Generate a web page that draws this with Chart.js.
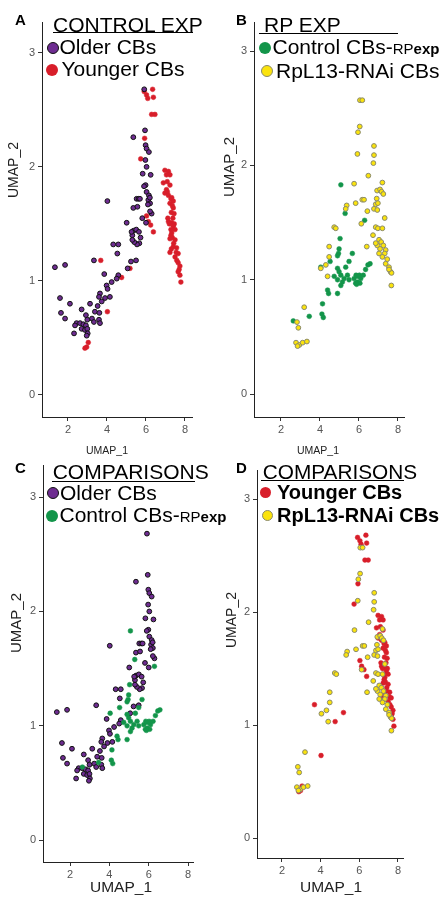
<!DOCTYPE html>
<html>
<head>
<meta charset="utf-8">
<script src="https://cdn.jsdelivr.net/npm/chart.js@4.4.0/dist/chart.umd.min.js"></script>
<style>
html, body { margin: 0; padding: 0; background: #fff; }
body { width: 443px; height: 897px; position: relative; overflow: hidden; font-family: "Liberation Sans", Arial, sans-serif; }
canvas { position: absolute; }
.t { position: absolute; white-space: nowrap; color: #000; }
.dot { position: absolute; border-radius: 50%; box-sizing: border-box; }
.rule { position: absolute; height: 1px; background: #000; }
</style>
</head>
<body>
<canvas id="pA"></canvas>
<canvas id="pB"></canvas>
<canvas id="pC"></canvas>
<canvas id="pD"></canvas>
<script>
// tick values shared by all four panels
const xTicks = [2, 4, 6, 8];
const yTicks = [0, 1, 2, 3];

// UMAP coordinates, [UMAP_1, UMAP_2]
const olderCBs = [
  [5.91,2.68],[5.95,2.32],[5.35,2.26],[5.98,2.19],[6.03,2.16],[6.15,2.13],[5.97,2.06],[6.03,2.00],
  [5.83,1.94],[6.24,1.93],[5.98,1.84],[5.90,1.83],[6.03,1.78],[5.52,1.72],[5.62,1.72],[5.69,1.72],
  [6.12,1.71],[6.15,1.75],[6.21,1.68],[6.10,1.67],[6.20,1.73],[4.02,1.70],[5.35,1.64],[5.56,1.65],
  [6.29,1.59],[6.21,1.61],[5.81,1.55],[5.01,1.51],[6.00,1.51],[5.30,1.40],[5.36,1.44],[5.50,1.45],
  [5.64,1.43],[5.72,1.38],[5.66,1.33],[5.54,1.32],[5.40,1.34],[5.30,1.36],[5.26,1.43],[4.32,1.32],
  [4.58,1.32],[4.53,1.24],[3.33,1.18],[5.23,1.17],[5.49,1.18],[5.06,1.11],[1.33,1.12],[1.85,1.14],
  [3.86,1.06],[4.58,1.05],[4.50,1.02],[4.24,0.99],[3.98,0.96],[4.03,0.93],[4.15,0.86],[3.90,0.85],
  [3.64,0.89],[3.59,0.86],[3.73,0.82],[3.52,0.78],[1.59,0.85],[2.10,0.80],[3.13,0.80],[2.70,0.75],
  [3.38,0.73],[3.61,0.72],[1.64,0.72],[1.85,0.67],[2.92,0.70],[3.23,0.67],[3.33,0.64],[3.59,0.66],
  [3.64,0.63],[2.44,0.63],[2.62,0.63],[2.79,0.62],[2.92,0.61],[2.70,0.58],[2.87,0.57],[2.99,0.58],
  [2.31,0.54],[3.01,0.54],[2.96,0.52],[2.36,0.61],[2.99,0.66]
];
const youngerCBs = [
  [5.91,2.66],[6.03,2.63],[6.34,2.68],[6.38,2.61],[6.09,2.60],[6.29,2.46],[6.46,2.46],[5.93,2.25],
  [5.73,2.07],[6.97,1.97],[7.15,1.96],[7.23,1.93],[7.05,1.93],[6.89,1.86],[7.09,1.87],[7.23,1.84],
  [6.97,1.77],[7.05,1.80],[7.10,1.78],[7.15,1.75],[7.32,1.73],[7.28,1.72],[7.40,1.70],[7.23,1.68],
  [7.35,1.66],[7.40,1.64],[7.30,1.60],[7.44,1.59],[7.38,1.55],[7.12,1.55],[7.15,1.52],[7.32,1.51],
  [7.20,1.50],[7.45,1.50],[7.40,1.48],[7.28,1.45],[7.49,1.45],[7.32,1.42],[7.28,1.40],[7.35,1.38],
  [7.23,1.37],[7.49,1.36],[7.42,1.33],[7.40,1.30],[7.30,1.28],[7.57,1.29],[7.23,1.25],[7.55,1.25],
  [7.65,1.24],[7.49,1.21],[7.58,1.18],[7.65,1.16],[7.74,1.13],[7.70,1.10],[7.65,1.08],[7.74,1.05],
  [7.79,0.99],[6.03,1.57],[6.12,1.52],[6.24,1.49],[6.38,1.43],[3.68,1.18],[5.18,1.11],[4.75,1.03],
  [4.02,0.73],[3.04,0.46],[2.96,0.42],[2.87,0.41]
];
const controlCBs = [
  [5.07,1.83],[5.29,1.58],[6.29,1.52],[5.03,1.36],[4.98,1.27],[4.95,1.23],[4.90,1.21],[5.66,1.23],
  [4.04,1.11],[4.52,1.16],[5.32,1.11],[5.49,1.16],[4.90,1.10],[4.98,1.07],[4.73,1.03],[4.90,1.00],
  [5.07,1.04],[5.15,0.98],[5.24,1.01],[5.41,1.04],[5.49,1.00],[5.07,0.95],[5.75,1.01],[5.92,0.98],
  [6.09,1.01],[5.95,1.03],[5.83,0.97],[5.85,1.04],[6.05,0.97],[5.88,0.96],[6.02,1.04],[6.22,1.04],
  [6.34,1.09],[6.46,1.13],[6.57,1.14],[4.39,0.91],[4.44,0.88],[4.90,0.88],[4.13,0.79],[4.10,0.70],
  [4.17,0.67],[3.45,0.68],[2.63,0.64]
];
const rnaiCBs = [
  [6.05,2.57],[6.17,2.57],[6.04,2.34],[5.95,2.29],[5.92,2.10],[6.77,2.17],[6.77,2.09],[6.74,2.02],
  [6.48,1.91],[5.75,1.84],[7.20,1.85],[6.93,1.78],[7.08,1.79],[7.16,1.77],[7.25,1.75],[5.83,1.67],
  [6.17,1.70],[6.26,1.70],[5.37,1.65],[5.32,1.62],[6.91,1.71],[6.86,1.66],[6.97,1.67],[6.77,1.62],
  [6.94,1.61],[6.43,1.60],[7.32,1.54],[6.12,1.49],[4.73,1.46],[4.81,1.45],[6.86,1.46],[6.97,1.45],
  [7.20,1.45],[6.72,1.39],[7.03,1.35],[7.14,1.33],[6.94,1.30],[7.25,1.30],[7.08,1.27],[7.37,1.26],
  [7.32,1.23],[7.20,1.20],[7.45,1.18],[7.37,1.14],[7.54,1.11],[7.62,1.07],[7.67,1.06],[7.54,1.09],
  [6.86,1.32],[7.03,1.23],[7.66,0.95],[6.40,1.29],[4.47,1.29],[4.47,1.20],[4.30,1.13],[4.39,1.03],
  [4.04,1.10],[3.19,0.76],[2.82,0.63],[2.89,0.58],[2.77,0.45],[2.94,0.43],[3.11,0.45],[3.33,0.46],
  [2.85,0.42]
];

const styles = {
  older:   { backgroundColor: '#6E2C91', borderColor: '#111', borderWidth: 1 },
  younger: { backgroundColor: '#D81E2A', borderColor: '#D81E2A', borderWidth: 0.5 },
  control: { backgroundColor: '#13954A', borderColor: '#13954A', borderWidth: 0.5 },
  rnai:    { backgroundColor: '#FBE30C', borderColor: '#8a8a6a', borderWidth: 1 }
};

function series(points, style) {
  return Object.assign({
    data: points.map(p => ({ x: p[0], y: p[1] })),
    pointRadius: 2.4,
    pointHoverRadius: 2.4
  }, style);
}

// canvas box and plot area of each panel on the page
const panels = [
  { id: 'pA', left: 0, top: 10, w: 200, h: 452, area: { l: 42, t: 22, r: 192, b: 417 }, x: [0.667, 8.36], y: [-0.193, 3.27],
    sets: [series(olderCBs, styles.older), series(youngerCBs, styles.younger)] },
  { id: 'pB', left: 221, top: 10, w: 191, h: 452, area: { l: 254, t: 22, r: 404, b: 417 }, x: [0.615, 8.31], y: [-0.20, 3.254],
    sets: [series(rnaiCBs, styles.rnai), series(controlCBs, styles.control)] },
  { id: 'pC', left: 0, top: 453, w: 201, h: 444, area: { l: 43, t: 465, r: 193, b: 862 }, x: [0.627, 8.25], y: [-0.19, 3.28],
    sets: [series(controlCBs, styles.control), series(olderCBs, styles.older)] },
  { id: 'pD', left: 221, top: 458, w: 190, h: 439, area: { l: 257, t: 470, r: 403, b: 858 }, x: [0.707, 8.26], y: [-0.177, 3.257],
    sets: [series(rnaiCBs, styles.rnai), series(youngerCBs, styles.younger)] }
];

const tickFont = { family: '"Liberation Sans", Arial, sans-serif', size: 11 };

panels.forEach(p => {
  const cv = document.getElementById(p.id);
  cv.width = p.w; cv.height = p.h;
  cv.style.left = p.left + 'px'; cv.style.top = p.top + 'px';
  const a = p.area;
  new Chart(cv, {
    type: 'scatter',
    data: { datasets: p.sets },
    options: {
      responsive: false,
      animation: false,
      devicePixelRatio: 1,
      layout: { padding: { top: a.t - p.top, right: p.left + p.w - a.r, bottom: 0, left: 0 } },
      plugins: { legend: { display: false }, tooltip: { enabled: false } },
      scales: {
        x: {
          type: 'linear', min: p.x[0], max: p.x[1],
          afterBuildTicks: s => { s.ticks = xTicks.map(v => ({ value: v })); },
          afterFit: s => { s.height = p.top + p.h - a.b; },
          grid: { drawOnChartArea: false, tickLength: 4, color: '#333' },
          border: { color: '#222', width: 1 },
          ticks: { font: tickFont, color: '#555', padding: 2 }
        },
        y: {
          type: 'linear', min: p.y[0], max: p.y[1],
          afterBuildTicks: s => { s.ticks = yTicks.map(v => ({ value: v })); },
          afterFit: s => { s.width = a.l - p.left; },
          grid: { drawOnChartArea: false, tickLength: 4, color: '#333' },
          border: { color: '#222', width: 1 },
          ticks: { font: tickFont, color: '#555', padding: 3 }
        }
      }
    }
  });
});

// text overlays: panel letters, legends, axis titles
function text(str, x, baseline, size, weight, html) {
  const d = document.createElement('div');
  d.className = 't';
  const lh = Math.round(size * 1.2);
  d.style.fontSize = size + 'px';
  d.style.lineHeight = lh + 'px';
  d.style.fontWeight = weight || 'normal';
  d.style.left = x + 'px';
  d.style.top = (baseline - (lh - 1.117 * size) / 2 - 0.905 * size) + 'px';
  if (html) d.innerHTML = str; else d.textContent = str;
  document.body.appendChild(d);
}
function dot(cx, cy, r, fill, stroke) {
  const d = document.createElement('div');
  d.className = 'dot';
  d.style.left = (cx - r) + 'px'; d.style.top = (cy - r) + 'px';
  d.style.width = d.style.height = (2 * r) + 'px';
  d.style.background = fill;
  if (stroke) d.style.border = '1px solid ' + stroke;
  document.body.appendChild(d);
}
function rule(x1, x2, y) {
  const d = document.createElement('div');
  d.className = 'rule';
  d.style.left = x1 + 'px'; d.style.top = y + 'px'; d.style.width = (x2 - x1) + 'px';
  document.body.appendChild(d);
}
function axisTitle(str, cx, cy, size, vertical) {
  const d = document.createElement('div');
  d.className = 't';
  d.textContent = str;
  d.style.fontSize = size + 'px';
  d.style.color = '#222';
  d.style.left = cx + 'px'; d.style.top = cy + 'px';
  d.style.transform = 'translate(-50%,-50%)' + (vertical ? ' rotate(-90deg)' : '');
  document.body.appendChild(d);
}

text('A', 15, 25, 15, 'bold');
text('B', 236, 25, 15, 'bold');
text('C', 15, 473, 15, 'bold');
text('D', 236, 473, 15, 'bold');

const rpSuffix = '<span style="font-size:15px">RP</span><span style="font-size:15px;font-weight:bold">exp</span>';

// A
text('CONTROL EXP', 53, 31.5, 21); rule(53, 193, 32);
dot(52.7, 47.7, 6, styles.older.backgroundColor, '#111');
text('Older CBs', 59.5, 54, 21);
dot(51.7, 70, 6, styles.younger.backgroundColor);
text('Younger CBs', 61.5, 75.5, 21);

// B
text('RP EXP', 264, 31.5, 21); rule(259, 398, 33);
dot(265.3, 47.7, 6, styles.control.backgroundColor);
text('Control CBs-' + rpSuffix, 272.5, 53.5, 21, 'normal', true);
dot(267, 71, 6, styles.rnai.backgroundColor, '#8a8a6a');
text('RpL13-RNAi CBs', 276, 77.3, 21);

// C
text('COMPARISONS', 52.7, 479, 21); rule(52, 195, 480.5);
dot(52.7, 493.3, 6, styles.older.backgroundColor, '#111');
text('Older CBs', 60, 499.3, 21);
dot(52.3, 516, 6, styles.control.backgroundColor);
text('Control CBs-' + rpSuffix, 59.5, 521.7, 21, 'normal', true);

// D
text('COMPARISONS', 262.7, 478.3, 20.8); rule(261, 404, 480);
dot(265.3, 492.3, 5.5, styles.younger.backgroundColor);
text('Younger CBs', 277, 499.3, 20, 'bold');
dot(267, 515, 5.5, styles.rnai.backgroundColor, '#8a8a6a');
text('RpL13-RNAi CBs', 277, 521.7, 20, 'bold');

axisTitle('UMAP_2', 13, 170, 14, true);
axisTitle('UMAP_2', 228, 167, 15, true);
axisTitle('UMAP_2', 15, 623, 15, true);
axisTitle('UMAP_2', 231, 620, 14, true);
axisTitle('UMAP_1', 107, 450, 10.5, false);
axisTitle('UMAP_1', 318, 450, 10.5, false);
axisTitle('UMAP_1', 121, 887, 15.5, false);
axisTitle('UMAP_1', 331, 887, 15.5, false);
</script>
</body>
</html>
